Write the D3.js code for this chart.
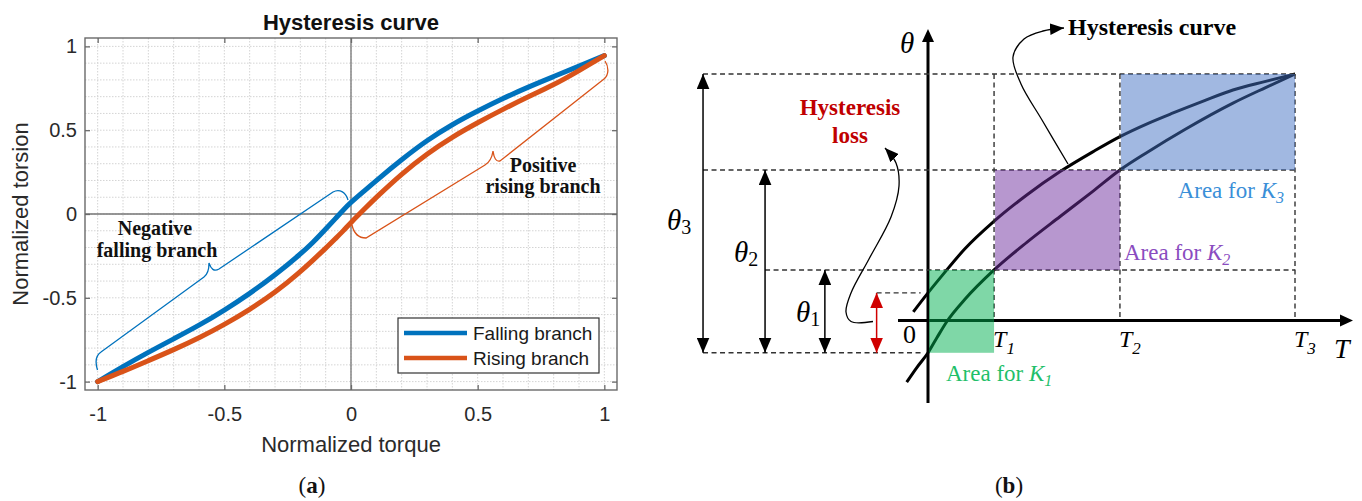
<!DOCTYPE html>
<html><head><meta charset="utf-8">
<script src="https://cdn.jsdelivr.net/npm/d3@7/dist/d3.min.js"></script>
<style>body{margin:0;background:#fff} svg{display:block}</style>
</head><body>
<svg id="c" width="1362" height="501"></svg>
<script>
// ================= Panel (a) data =================
const torque        = [-1, -0.9, -0.8, -0.7, -0.6, -0.5, -0.4, -0.3, -0.2, -0.15, -0.1, -0.06, -0.03, 0, 0.05, 0.1, 0.2, 0.3, 0.4, 0.5, 0.6, 0.7, 0.8, 0.9, 1];
const fallingBranch = [-1, -0.91, -0.825, -0.745, -0.665, -0.575, -0.475, -0.365, -0.24, -0.17, -0.09, -0.025, 0.025, 0.07, 0.135, 0.2, 0.325, 0.44, 0.535, 0.615, 0.69, 0.758, 0.82, 0.882, 0.945];
const risingBranch  = [-1, -0.94, -0.875, -0.81, -0.74, -0.66, -0.57, -0.47, -0.345, -0.275, -0.205, -0.145, -0.1, -0.05, 0.025, 0.1, 0.24, 0.36, 0.46, 0.545, 0.625, 0.70, 0.77, 0.855, 0.945];
const tickValues = [-1, -0.5, 0, 0.5, 1];
const tickLabels = ["-1", "-0.5", "0", "0.5", "1"];
const seriesNames  = ["Falling branch", "Rising branch"];
const seriesColors = ["#0072BD", "#D95319"];

// ================= Panel (b) data =================
const Tlevels     = [0.18, 0.523, 1.0];      // T1, T2, T3
const Tsubs       = ["1", "2", "3"];
const thetaLevels = [0.205, 0.6105, 1.0];    // θ1, θ2, θ3
const thetaBase   = -0.131;                  // lower branch at T = 0
const thetaLoss   = 0.112;                   // upper branch at T = 0
const upperT      = [-0.04, 0, 0.04, 0.1, 0.178, 0.27, 0.36, 0.45, 0.523, 0.6, 0.668, 0.75, 0.831, 0.92, 1];
const upperTheta  = [0.035, 0.112, 0.185, 0.29, 0.40, 0.51, 0.604, 0.685, 0.746, 0.80, 0.842, 0.89, 0.935, 0.97, 1.0];
const lowerT      = [-0.058, -0.03, 0, 0.025, 0.051, 0.1, 0.18, 0.27, 0.36, 0.45, 0.523, 0.6, 0.7, 0.831, 0.92, 1];
const lowerTheta  = [-0.25, -0.19, -0.131, -0.068, -0.005, 0.085, 0.205, 0.318, 0.422, 0.525, 0.6105, 0.685, 0.775, 0.882, 0.945, 1.0];
const areaSubs    = ["1", "2", "3"];
const areaFills   = ["#00B050", "#7030A0", "#4472C4"];
const areaText    = ["#1fbf6a", "#8a4cc0", "#3a8fd8"];

const svg = d3.select("#c");
const sans = "'Liberation Sans', Arial, sans-serif";
const serif = "'Liberation Serif', 'Times New Roman', serif";

// ---------------- Panel (a) ----------------
const L = 85, R = 617, Tp = 38, B = 390;
const xA = d3.scaleLinear().domain([-1.05, 1.05]).range([L, R]);
const yA = d3.scaleLinear().domain([-1.05, 1.05]).range([B, Tp]);
const gA = svg.append("g");

const gridVals = d3.range(-10, 11).map(d => d / 10);
gA.append("g").selectAll("line").data(gridVals).join("line")
  .attr("x1", d => xA(d)).attr("x2", d => xA(d)).attr("y1", Tp).attr("y2", B)
  .attr("stroke", "#d4d4d4").attr("stroke-width", 1).attr("stroke-dasharray", "1.5,1.5");
gA.append("g").selectAll("line").data(gridVals).join("line")
  .attr("y1", d => yA(d)).attr("y2", d => yA(d)).attr("x1", L).attr("x2", R)
  .attr("stroke", "#d4d4d4").attr("stroke-width", 1).attr("stroke-dasharray", "1.5,1.5");

// zero lines
gA.append("line").attr("x1", xA(0)).attr("x2", xA(0)).attr("y1", Tp).attr("y2", B)
  .attr("stroke", "#747474").attr("stroke-width", 1.3);
gA.append("line").attr("y1", yA(0)).attr("y2", yA(0)).attr("x1", L).attr("x2", R)
  .attr("stroke", "#747474").attr("stroke-width", 1.3);

// axes
const fmt = (d) => tickLabels[tickValues.indexOf(d)];
const ax = (g) => { g.select(".domain").remove(); g.selectAll("line").attr("stroke", "#6a6a6a").attr("stroke-width", 1.3); };
gA.append("g").attr("transform", `translate(0,${B})`)
  .call(d3.axisBottom(xA).tickValues(tickValues).tickFormat(fmt).tickSizeInner(-5).tickSizeOuter(0).tickPadding(17))
  .call(ax).selectAll("text").attr("font-family", sans).attr("font-size", 20).attr("fill", "#2a2a2a");
gA.append("g").attr("transform", `translate(${L},0)`)
  .call(d3.axisLeft(yA).tickValues(tickValues).tickFormat(fmt).tickSizeInner(-5).tickSizeOuter(0).tickPadding(8))
  .call(ax).selectAll("text").attr("font-family", sans).attr("font-size", 20).attr("fill", "#2a2a2a");
gA.append("g").attr("transform", `translate(0,${Tp})`)
  .call(d3.axisTop(xA).tickValues(tickValues).tickFormat("").tickSizeInner(-5).tickSizeOuter(0)).call(ax);
gA.append("g").attr("transform", `translate(${R},0)`)
  .call(d3.axisRight(yA).tickValues(tickValues).tickFormat("").tickSizeInner(-5).tickSizeOuter(0)).call(ax);

// box
gA.append("rect").attr("x", L).attr("y", Tp).attr("width", R - L).attr("height", B - Tp)
  .attr("fill", "none").attr("stroke", "#6a6a6a").attr("stroke-width", 1.4);

// curves
const lineA = d3.line().x(d => xA(d[0])).y(d => yA(d[1])).curve(d3.curveBasis);
[fallingBranch, risingBranch].forEach((s, i) => {
  gA.append("path").datum(torque.map((t, j) => [t, s[j]])).attr("d", lineA)
    .attr("fill", "none").attr("stroke", seriesColors[i]).attr("stroke-width", 5).attr("stroke-linecap", "round");
});

// braces (annotations)
gA.append("path")
  .attr("d", "M97.5,370 C95,362 95,356 101,352 L204,277 C208,274 209,270 209,263 C211,269 214,272 219,269 L333,192 C340,188 346,193 348,200")
  .attr("fill", "none").attr("stroke", seriesColors[0]).attr("stroke-width", 1.3);
gA.append("path")
  .attr("d", "M352,225 C354,234 358,238 366,238 L485,165 C490,162 492,158 493,151 C494,158 496,162 500,161 L604,79 C609,75 609,67 605,61")
  .attr("fill", "none").attr("stroke", seriesColors[1]).attr("stroke-width", 1.3);

// annotation texts
const bt = (x, y, t, size, anchor) => gA.append("text").attr("x", x).attr("y", y).text(t)
  .attr("font-family", serif).attr("font-weight", "bold").attr("font-size", size).attr("text-anchor", anchor || "middle").attr("fill", "#111");
bt(155, 235, "Negative", 20);
bt(157, 257, "falling branch", 20);
bt(543, 172, "Positive", 20);
bt(543, 193, "rising branch", 20);

// legend
gA.append("rect").attr("x", 398).attr("y", 318).attr("width", 201).attr("height", 55)
  .attr("fill", "#fff").attr("stroke", "#333").attr("stroke-width", 1.2);
seriesNames.forEach((n, i) => {
  const yy = 333 + i * 25;
  gA.append("line").attr("x1", 404).attr("x2", 467).attr("y1", yy).attr("y2", yy)
    .attr("stroke", seriesColors[i]).attr("stroke-width", 4.5);
  gA.append("text").attr("x", 473).attr("y", yy).attr("dy", "0.36em").text(n)
    .attr("font-family", sans).attr("font-size", 19).attr("fill", "#1a1a1a");
});

// titles
gA.append("text").attr("x", 351).attr("y", 30).attr("text-anchor", "middle").text("Hysteresis curve")
  .attr("font-family", sans).attr("font-weight", "bold").attr("font-size", 22).attr("fill", "#111");
gA.append("text").attr("x", 351).attr("y", 452).attr("text-anchor", "middle").text("Normalized torque")
  .attr("font-family", sans).attr("font-size", 22).attr("fill", "#2a2a2a");
gA.append("text").attr("transform", "translate(28,214) rotate(-90)").attr("text-anchor", "middle").text("Normalized torsion")
  .attr("font-family", sans).attr("font-size", 22).attr("fill", "#2a2a2a");

// panel labels
const pl = (x, letter) => {
  const t = svg.append("text").attr("x", x).attr("y", 493).attr("text-anchor", "middle")
    .attr("font-family", serif).attr("font-size", 23).attr("fill", "#111");
  t.append("tspan").text("(");
  t.append("tspan").attr("font-weight", "bold").text(letter);
  t.append("tspan").text(")");
};
pl(312, "a");
pl(1009, "b");

// ---------------- Panel (b) ----------------
const xB = d3.scaleLinear().domain([0, 1]).range([928, 1295]);
const yB = d3.scaleLinear().domain([0, 1]).range([320.5, 74]);
const gB = svg.append("g");
const defs = svg.append("defs");
const mk = (id, color, len, wid) => defs.append("marker").attr("id", id)
  .attr("markerUnits", "userSpaceOnUse").attr("markerWidth", len + 2).attr("markerHeight", wid + 2)
  .attr("viewBox", `${-len} ${-wid / 2} ${len} ${wid}`).attr("refX", 0).attr("refY", 0)
  .attr("orient", "auto-start-reverse")
  .append("path").attr("d", `M0,0 L${-len},${-wid / 2} L${-len},${wid / 2} Z`).attr("fill", color);
mk("ab", "#000", 13, 11);
mk("ar", "#d00000", 13, 11);
mk("ap", "#000", 12, 10);

// annotation arrow positions (T units, left of the θ axis)
const arrowT = [-0.281, -0.444, -0.613]; // θ1, θ2, θ3 dimension arrows
const lossArrowT = -0.140;
const dash = (x1, y1, x2, y2) => gB.append("line").attr("x1", x1).attr("y1", y1).attr("x2", x2).attr("y2", y2)
  .attr("stroke", "#333").attr("stroke-width", 1.4).attr("stroke-dasharray", "5,3.5");

// curves (drawn under the translucent areas)
const lineB = d3.line().x(d => xB(d[0])).y(d => yB(d[1])).curve(d3.curveMonotoneX);
gB.append("path").datum(upperT.map((t, i) => [t, upperTheta[i]])).attr("d", lineB)
  .attr("fill", "none").attr("stroke", "#000").attr("stroke-width", 3);
gB.append("path").datum(lowerT.map((t, i) => [t, lowerTheta[i]])).attr("d", lineB)
  .attr("fill", "none").attr("stroke", "#000").attr("stroke-width", 3);

// axes
gB.append("line").attr("x1", xB(0)).attr("x2", xB(0)).attr("y1", 403).attr("y2", 36)
  .attr("stroke", "#000").attr("stroke-width", 3);
gB.append("path").attr("d", `M${xB(0)},29 L${xB(0) - 6},42 L${xB(0) + 6},42 Z`).attr("fill", "#000");
gB.append("line").attr("x1", 898).attr("x2", 1346).attr("y1", yB(0)).attr("y2", yB(0))
  .attr("stroke", "#000").attr("stroke-width", 3);
gB.append("path").attr("d", `M1353,${yB(0)} L1340,${yB(0) - 6} L1340,${yB(0) + 6} Z`).attr("fill", "#000");

// dashed guide lines
dash(xB(arrowT[2]), yB(thetaLevels[2]), xB(1), yB(thetaLevels[2]));
dash(xB(arrowT[2]), yB(thetaLevels[1]), xB(1), yB(thetaLevels[1]));
dash(xB(arrowT[1]), yB(thetaLevels[0]), xB(1), yB(thetaLevels[0]));
dash(xB(lossArrowT), yB(thetaLoss), xB(-0.02), yB(thetaLoss));
dash(xB(arrowT[2]), yB(thetaBase), xB(-0.02), yB(thetaBase));
Tlevels.forEach(t => dash(xB(t), yB(thetaLevels[2]), xB(t), yB(0)));

// areas
const areaBounds = [[0, Tlevels[0], thetaBase, thetaLevels[0]],
                    [Tlevels[0], Tlevels[1], thetaLevels[0], thetaLevels[1]],
                    [Tlevels[1], Tlevels[2], thetaLevels[1], thetaLevels[2]]];
gB.selectAll("rect.area").data(areaBounds).join("rect").attr("class", "area")
  .attr("x", d => xB(d[0]) + 1).attr("width", d => xB(d[1]) - xB(d[0]) - 1)
  .attr("y", d => yB(d[3])).attr("height", d => yB(d[2]) - yB(d[3]))
  .attr("fill", (d, i) => areaFills[i]).attr("fill-opacity", 0.5);

// dimension arrows
const vArrow = (t, y1, y2, marker, color) => gB.append("line")
  .attr("x1", xB(t)).attr("x2", xB(t)).attr("y1", yB(y1)).attr("y2", yB(y2))
  .attr("stroke", color).attr("stroke-width", 1.5)
  .attr("marker-start", `url(#${marker})`).attr("marker-end", `url(#${marker})`);
thetaLevels.forEach((th, i) => vArrow(arrowT[i], thetaBase, th, "ab", "#000"));
vArrow(lossArrowT, thetaBase, thetaLoss, "ar", "#d00000");

// pointer arrows (annotations)
const smooth = d3.line().curve(d3.curveCatmullRom);
gB.append("path").attr("d", smooth([[1068, 164], [1042, 120], [1021, 84], [1013, 57], [1024, 39], [1043, 31], [1064, 28]]))
  .attr("fill", "none").attr("stroke", "#000").attr("stroke-width", 1.3).attr("marker-end", "url(#ap)");
gB.append("path").attr("d", smooth([[873, 321.5], [851, 321.5], [846, 312], [851, 293], [869, 259], [891, 217], [899, 186], [896, 163], [885, 148]]))
  .attr("fill", "none").attr("stroke", "#000").attr("stroke-width", 1.3).attr("marker-end", "url(#ap)");

// texts panel (b)
const tb = (x, y, txt, size, color, anchor) => gB.append("text").attr("x", x).attr("y", y).text(txt)
  .attr("font-family", serif).attr("font-weight", "bold").attr("font-size", size)
  .attr("fill", color).attr("text-anchor", anchor || "start");
tb(1068, 35, "Hysteresis curve", 24, "#000");
tb(850, 115, "Hysteresis", 23, "#c00000", "middle");
tb(850, 143, "loss", 23, "#c00000", "middle");

// theta labels
const thetaLabel = (x, y, sub) => {
  const t = gB.append("text").attr("x", x).attr("y", y).attr("font-family", serif).attr("fill", "#000");
  t.append("tspan").attr("font-style", "italic").attr("font-size", 29).text("θ");
  if (sub) t.append("tspan").attr("font-size", 20).attr("dy", 4).text(sub);
};
thetaLabel(900, 53, null);
thetaLabel(667, 230, "3");
thetaLabel(734, 262, "2");
thetaLabel(796, 322, "1");

// T labels
const TLabel = (x, y, sub, size) => {
  const t = gB.append("text").attr("x", x).attr("y", y).attr("font-family", serif).attr("font-style", "italic").attr("fill", "#000");
  t.append("tspan").attr("font-size", size).text("T");
  if (sub) t.append("tspan").attr("font-size", 17).attr("dy", 7).text(sub);
};
Tlevels.forEach((tv, i) => TLabel(xB(tv) - 1, 347, Tsubs[i], 24));
TLabel(1334, 358, null, 28);
gB.append("text").attr("x", 903).attr("y", 343).text("0").attr("font-family", serif).attr("font-size", 26).attr("fill", "#000");

// area labels
const areaLabel = (x, y, i, anchor) => {
  const t = gB.append("text").attr("x", x).attr("y", y).attr("font-family", serif).attr("font-size", 23)
    .attr("fill", areaText[i]).attr("text-anchor", anchor);
  t.append("tspan").text("Area for ");
  t.append("tspan").attr("font-style", "italic").text("K");
  t.append("tspan").attr("font-style", "italic").attr("font-size", 16).attr("dy", 5).text(areaSubs[i]);
};
areaLabel(946, 381, 0, "start");
areaLabel(1124, 260, 1, "start");
areaLabel(1284, 198, 2, "end");
</script>
</body></html>
